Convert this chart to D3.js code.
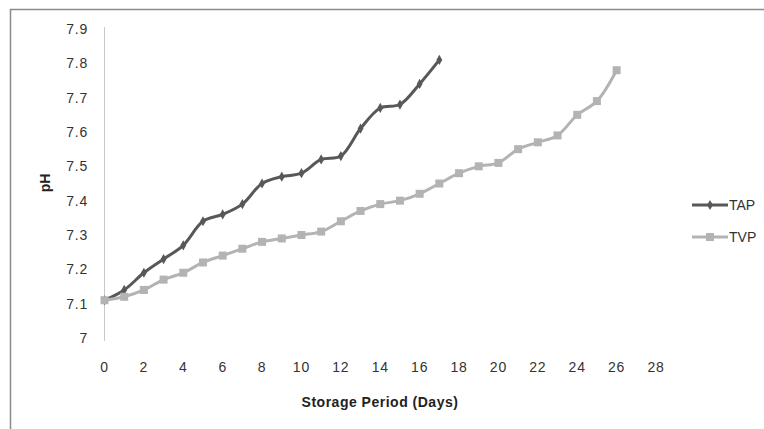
<!DOCTYPE html>
<html>
<head>
<meta charset="utf-8">
<script src="https://cdn.jsdelivr.net/npm/d3@7"></script>
<style>
  body { margin: 0; background: #fff; }
  text { font-family: "Liberation Sans", Arial, sans-serif; }
</style>
</head>
<body>
<script>
const width = 764
const height = 429

// storage days and pH readings
const tapDays = d3.range(0, 18)
const tapPH = [7.11, 7.14, 7.19, 7.23, 7.27, 7.34, 7.36, 7.39, 7.45, 7.47, 7.48, 7.52, 7.53, 7.61, 7.67, 7.68, 7.74, 7.81]
const tvpDays = d3.range(0, 27)
const tvpPH = [7.11, 7.12, 7.14, 7.17, 7.19, 7.22, 7.24, 7.26, 7.28, 7.29, 7.30, 7.31, 7.34, 7.37, 7.39, 7.40, 7.42, 7.45, 7.48, 7.50, 7.51, 7.55, 7.57, 7.59, 7.65, 7.69, 7.78]
const xTicks = d3.range(0, 29, 2)
const yTicks = [7, 7.1, 7.2, 7.3, 7.4, 7.5, 7.6, 7.7, 7.8, 7.9]

const series = [
  { name: 'TAP', days: tapDays, values: tapPH, color: '#585858', marker: 'diamond' },
  { name: 'TVP', days: tvpDays, values: tvpPH, color: '#b3b3b3', marker: 'square' }
]

const svg = d3.select('body').append('svg')
  .attr('width', width)
  .attr('height', height)

// outer frame
svg.append('path')
  .attr('d', 'M10.5,' + height + 'V9.5H' + width)
  .attr('fill', 'none')
  .attr('stroke', '#8a8a8a')
  .attr('stroke-width', 1.5)

const x = d3.scaleLinear().domain([0, 28]).range([104.5, 656])
const y = d3.scaleLinear().domain([7, 7.9]).range([338, 29])

// y axis line
svg.append('line')
  .attr('x1', x(0)).attr('x2', x(0))
  .attr('y1', y(7.9) - 2).attr('y2', y(7) + 3)
  .attr('stroke', '#c8c8c8')

svg.append('g').selectAll('text')
  .data(yTicks).enter().append('text')
  .attr('x', 88)
  .attr('y', d => y(d))
  .attr('dy', '0.35em')
  .attr('text-anchor', 'end')
  .attr('font-size', 14)
  .attr('letter-spacing', 0.8)
  .attr('fill', '#333')
  .text(d => d3.format('')(d))

svg.append('g').selectAll('text')
  .data(xTicks).enter().append('text')
  .attr('x', d => x(d))
  .attr('y', 367)
  .attr('dy', '0.35em')
  .attr('text-anchor', 'middle')
  .attr('font-size', 14)
  .attr('letter-spacing', 0.8)
  .attr('fill', '#333')
  .text(d => d)

svg.append('text')
  .attr('x', 380)
  .attr('y', 402)
  .attr('dy', '0.35em')
  .attr('text-anchor', 'middle')
  .attr('font-size', 14)
  .attr('font-weight', 'bold')
  .attr('letter-spacing', 0.5)
  .attr('fill', '#222')
  .text('Storage Period (Days)')

svg.append('text')
  .attr('transform', 'translate(45,183) rotate(-90)')
  .attr('dy', '0.35em')
  .attr('text-anchor', 'middle')
  .attr('font-size', 14)
  .attr('font-weight', 'bold')
  .attr('fill', '#222')
  .text('pH')

const line = d3.line()
  .x(d => x(d[0]))
  .y(d => y(d[1]))
  .curve(d3.curveCatmullRom.alpha(0.5))

const diamond = d3.symbol().type(d3.symbolDiamond).size(30)

function drawMarker (g, s, cx, cy) {
  if (s.marker === 'square') {
    g.append('rect')
      .attr('x', cx - 4).attr('y', cy - 4)
      .attr('width', 8).attr('height', 8)
      .attr('fill', s.color)
  } else {
    g.append('path')
      .attr('d', diamond())
      .attr('transform', 'translate(' + cx + ',' + cy + ')')
      .attr('fill', s.color)
  }
}

series.forEach(s => {
  const pts = s.days.map((d, i) => [d, s.values[i]])
  const g = svg.append('g')
  g.append('path')
    .attr('d', line(pts))
    .attr('fill', 'none')
    .attr('stroke', s.color)
    .attr('stroke-width', 3)
  pts.forEach(p => drawMarker(g, s, x(p[0]), y(p[1])))
})

// legend
series.forEach((s, i) => {
  const ly = 205 + i * 32
  const g = svg.append('g')
  g.append('line')
    .attr('x1', 692).attr('x2', 728)
    .attr('y1', ly).attr('y2', ly)
    .attr('stroke', s.color)
    .attr('stroke-width', 3)
  drawMarker(g, s, 710, ly)
  g.append('text')
    .attr('x', 729)
    .attr('y', ly)
    .attr('dy', '0.35em')
    .attr('font-size', 14)
    .attr('fill', '#333')
    .text(s.name)
})
</script>
</body>
</html>
